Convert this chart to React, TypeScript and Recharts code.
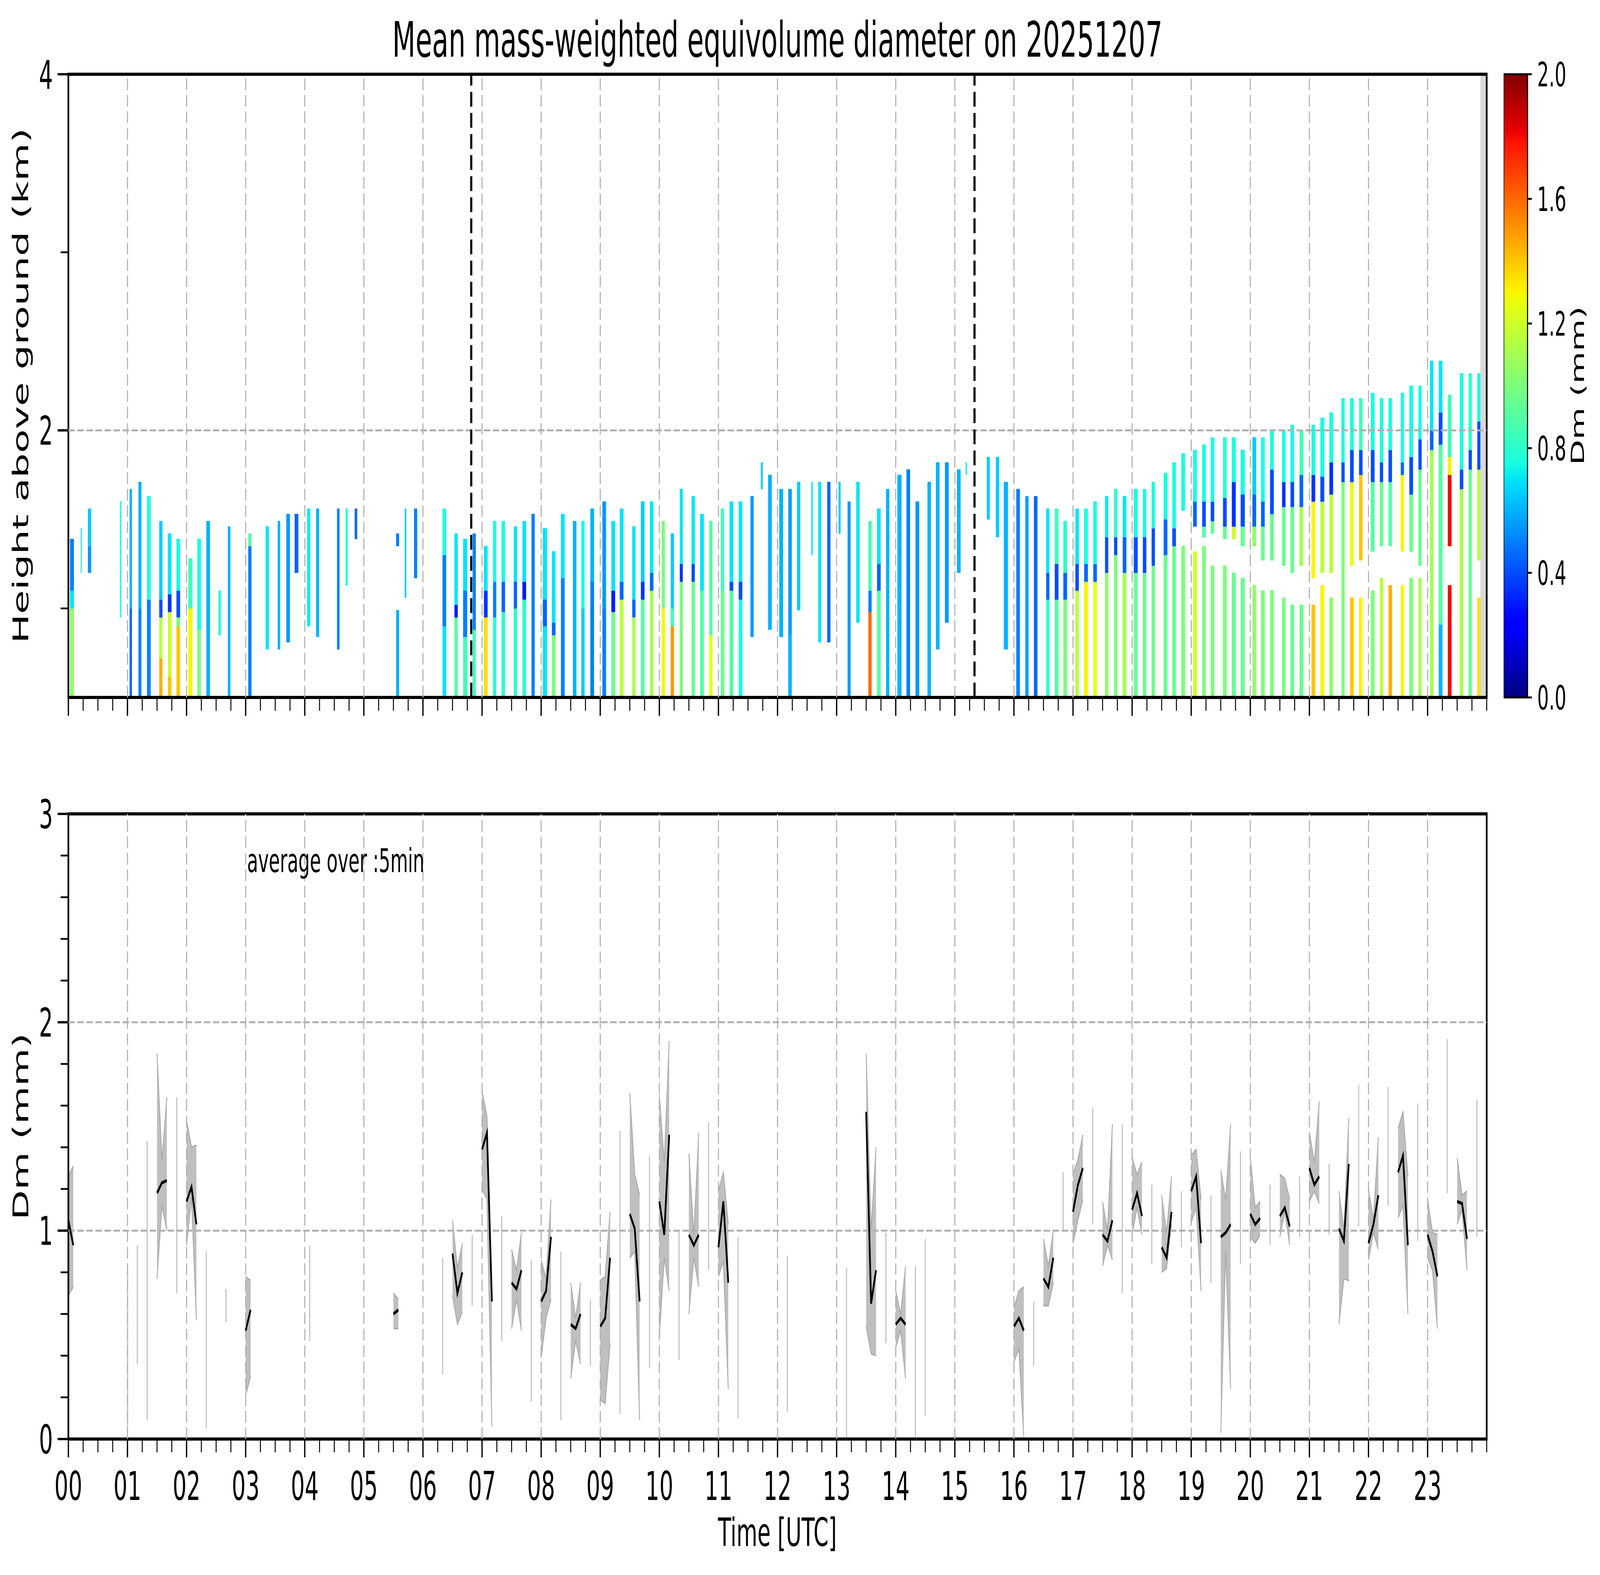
import React from 'react';
import { ComposedChart, XAxis, YAxis, Line, Area, ReferenceArea, ReferenceLine } from 'recharts';

// ======================= DATA =======================
const HOURS = [0, 1, 2, 3, 4, 5, 6, 7, 8, 9, 10, 11, 12, 13, 14, 15, 16, 17, 18, 19, 20, 21, 22, 23];
const EVENT_MARKERS = [6.817, 15.333];
const NO_DATA_FROM = 23.893;
const TOP_Y_MAJOR = [2, 4];
const TOP_Y_MINOR = [1, 3];
const BOTTOM_Y_MAJOR = [0, 1, 2, 3];
const CB_TICKS = [0, 0.4, 0.8, 1.2, 1.6, 2.0];

// profiles: [start hour, end hour, [[bottom km, top km, Dm mm], ...]]
type Layer = [number, number, number];
type Profile = [number, number, Layer[]];

const PROFILES_00_06: Profile[] = [
  [0.031, 0.092, [[0.5, 1.0, 1.05], [1.0, 1.1, 0.7], [1.1, 1.39, 0.5]]],
  [0.211, 0.222, [[1.2, 1.45, 0.7]]],
  [0.333, 0.383, [[1.2, 1.35, 0.55], [1.35, 1.56, 0.65]]],
  [0.874, 0.893, [[0.95, 1.6, 0.75]]],
  [1.038, 1.073, [[0.5, 1.0, 0.45], [1.0, 1.67, 0.6]]],
  [1.188, 1.234, [[0.5, 1.0, 0.5], [1.0, 1.71, 0.6]]],
  [1.333, 1.391, [[0.5, 1.05, 0.5], [1.05, 1.63, 0.78]]],
  [1.54, 1.59, [[0.5, 0.72, 1.45], [0.72, 0.95, 1.15], [0.95, 1.05, 0.4], [1.05, 1.49, 0.65]]],
  [1.686, 1.743, [[0.5, 0.62, 1.4], [0.62, 0.98, 1.2], [0.98, 1.08, 0.35], [1.08, 1.42, 0.7]]],
  [1.831, 1.889, [[0.5, 0.9, 1.4], [0.9, 0.95, 1.0], [0.95, 1.1, 0.4], [1.1, 1.39, 0.75]]],
  [2.031, 2.096, [[0.5, 1.0, 1.3], [1.0, 1.28, 0.85]]],
  [2.184, 2.241, [[0.5, 0.88, 1.0], [0.88, 1.39, 0.75]]],
  [2.337, 2.395, [[0.5, 1.49, 0.6]]],
  [2.54, 2.579, [[0.85, 1.1, 0.8]]],
  [2.701, 2.739, [[0.5, 1.46, 0.6]]],
  [3.046, 3.096, [[0.5, 1.35, 0.5], [1.35, 1.42, 0.9]]],
  [3.341, 3.391, [[0.77, 1.46, 0.7]]],
  [3.544, 3.582, [[0.77, 1.49, 0.6]]],
  [3.69, 3.747, [[0.81, 1.53, 0.55]]],
  [3.831, 3.889, [[1.2, 1.53, 0.45]]],
  [4.042, 4.092, [[0.9, 1.56, 0.72]]],
  [4.195, 4.241, [[0.84, 1.56, 0.6]]],
  [4.548, 4.586, [[0.77, 1.56, 0.5]]],
  [4.693, 4.724, [[1.13, 1.56, 0.75]]],
  [4.847, 4.885, [[1.39, 1.56, 0.45]]],
  [5.548, 5.594, [[0.5, 0.99, 0.6], [1.35, 1.42, 0.5]]],
  [5.693, 5.716, [[1.06, 1.56, 0.65]]],
  [5.851, 5.9, [[1.17, 1.56, 0.5]]],
];

const PROFILES_06_12: Profile[] = [
  [6.333, 6.391, [[0.5, 0.9, 0.7], [0.9, 1.3, 0.5], [1.3, 1.56, 0.75]]],
  [6.536, 6.586, [[0.5, 0.95, 0.9], [0.95, 1.02, 0.3], [1.02, 1.42, 0.7]]],
  [6.682, 6.747, [[0.5, 0.84, 0.85], [0.84, 1.1, 0.5], [1.1, 1.39, 0.7]]],
  [6.843, 6.893, [[0.5, 0.88, 0.85], [0.88, 1.42, 0.5]]],
  [7.034, 7.092, [[0.5, 0.95, 1.35], [0.95, 1.1, 0.35], [1.1, 1.35, 0.7]]],
  [7.188, 7.238, [[0.5, 0.95, 0.8], [0.95, 1.15, 0.5], [1.15, 1.49, 0.75]]],
  [7.333, 7.387, [[0.5, 0.98, 0.8], [0.98, 1.15, 0.45], [1.15, 1.49, 0.75]]],
  [7.54, 7.59, [[0.5, 1.0, 0.8], [1.0, 1.15, 0.45], [1.15, 1.46, 0.7]]],
  [7.686, 7.743, [[0.5, 1.05, 0.8], [1.05, 1.15, 0.3], [1.15, 1.49, 0.7]]],
  [7.839, 7.889, [[0.5, 1.53, 0.5]]],
  [8.031, 8.096, [[0.5, 0.9, 0.7], [0.9, 1.05, 0.45], [1.05, 1.45, 0.7]]],
  [8.184, 8.241, [[0.5, 0.85, 1.0], [0.85, 0.92, 0.45], [0.92, 1.32, 0.7]]],
  [8.337, 8.395, [[0.5, 1.17, 0.5], [1.17, 1.53, 0.7]]],
  [8.54, 8.594, [[0.5, 1.49, 0.6]]],
  [8.682, 8.732, [[0.5, 1.0, 0.65], [1.0, 1.49, 0.75]]],
  [8.835, 8.893, [[0.5, 1.15, 0.5], [1.15, 1.56, 0.6]]],
  [9.038, 9.096, [[0.5, 1.0, 0.5], [1.0, 1.6, 0.55]]],
  [9.191, 9.249, [[0.5, 0.98, 0.95], [0.98, 1.1, 0.3], [1.1, 1.49, 0.7]]],
  [9.333, 9.391, [[0.5, 1.05, 1.15], [1.05, 1.15, 0.45], [1.15, 1.56, 0.7]]],
  [9.544, 9.594, [[0.5, 0.95, 1.1], [0.95, 1.05, 0.45], [1.05, 1.46, 0.7]]],
  [9.69, 9.747, [[0.5, 1.05, 0.9], [1.05, 1.15, 0.35], [1.15, 1.6, 0.65]]],
  [9.843, 9.897, [[0.5, 1.1, 1.1], [1.1, 1.2, 0.45], [1.2, 1.6, 0.7]]],
  [10.042, 10.092, [[0.5, 1.0, 1.3], [1.0, 1.49, 1.0]]],
  [10.195, 10.245, [[0.5, 0.9, 1.5], [0.9, 1.0, 0.85], [1.0, 1.42, 0.65]]],
  [10.349, 10.395, [[0.5, 1.15, 1.0], [1.15, 1.25, 0.35], [1.25, 1.67, 0.7]]],
  [10.548, 10.598, [[0.5, 1.15, 0.95], [1.15, 1.25, 0.4], [1.25, 1.63, 0.7]]],
  [10.693, 10.751, [[0.5, 1.1, 0.9], [1.1, 1.53, 0.7]]],
  [10.847, 10.897, [[0.5, 0.85, 1.25], [0.85, 1.49, 0.9]]],
  [11.042, 11.096, [[0.5, 1.1, 0.95], [1.1, 1.56, 0.85]]],
  [11.191, 11.249, [[0.5, 1.1, 0.9], [1.1, 1.15, 0.4], [1.15, 1.6, 0.7]]],
  [11.345, 11.402, [[0.5, 1.05, 0.75], [1.05, 1.15, 0.4], [1.15, 1.6, 0.7]]],
  [11.544, 11.594, [[0.84, 1.63, 0.55]]],
  [11.72, 11.747, [[1.67, 1.82, 0.65]]],
  [11.843, 11.9, [[0.88, 1.75, 0.6]]],
];

const PROFILES_12_18: Profile[] = [
  [12.031, 12.092, [[0.84, 1.67, 0.6]]],
  [12.184, 12.238, [[0.5, 0.85, 0.6], [0.85, 1.67, 0.55]]],
  [12.333, 12.383, [[0.99, 1.71, 0.65]]],
  [12.575, 12.594, [[1.3, 1.71, 0.7]]],
  [12.69, 12.736, [[0.81, 1.71, 0.7]]],
  [12.843, 12.893, [[0.81, 1.71, 0.45]]],
  [13.034, 13.065, [[1.42, 1.71, 0.65]]],
  [13.188, 13.234, [[0.5, 1.6, 0.55]]],
  [13.333, 13.387, [[0.92, 1.71, 0.7]]],
  [13.54, 13.59, [[0.5, 0.98, 1.6], [0.98, 1.1, 0.5], [1.1, 1.49, 0.85]]],
  [13.686, 13.743, [[0.5, 1.1, 0.9], [1.1, 1.25, 0.45], [1.25, 1.56, 0.7]]],
  [13.839, 13.889, [[0.5, 1.67, 0.6]]],
  [14.031, 14.096, [[0.5, 1.75, 0.6]]],
  [14.184, 14.241, [[0.5, 1.78, 0.5]]],
  [14.337, 14.395, [[0.5, 1.6, 0.55]]],
  [14.54, 14.594, [[0.5, 1.71, 0.6]]],
  [14.682, 14.739, [[0.77, 1.82, 0.6]]],
  [14.835, 14.893, [[0.92, 1.82, 0.55]]],
  [15.038, 15.096, [[1.2, 1.78, 0.6]]],
  [15.185, 15.2, [[1.75, 1.82, 0.7]]],
  [15.544, 15.59, [[1.5, 1.85, 0.65]]],
  [15.697, 15.747, [[1.4, 1.85, 0.65]]],
  [15.831, 15.897, [[0.77, 1.71, 0.6]]],
  [16.042, 16.1, [[0.5, 1.67, 0.5]]],
  [16.195, 16.245, [[0.5, 1.63, 0.55]]],
  [16.341, 16.395, [[0.5, 1.63, 0.45]]],
  [16.548, 16.598, [[0.5, 1.05, 0.8], [1.05, 1.2, 0.45], [1.2, 1.56, 0.7]]],
  [16.693, 16.751, [[0.5, 1.05, 0.9], [1.05, 1.25, 0.4], [1.25, 1.56, 0.85]]],
  [16.839, 16.897, [[0.5, 1.05, 1.0], [1.05, 1.2, 0.45], [1.2, 1.49, 0.8]]],
  [17.042, 17.096, [[0.5, 1.1, 1.15], [1.1, 1.25, 0.4], [1.25, 1.56, 0.7]]],
  [17.191, 17.249, [[0.5, 1.15, 1.3], [1.15, 1.25, 0.45], [1.25, 1.56, 0.75]]],
  [17.345, 17.402, [[0.5, 1.15, 1.25], [1.15, 1.25, 0.45], [1.25, 1.6, 0.75]]],
  [17.544, 17.594, [[0.5, 1.2, 1.05], [1.2, 1.4, 0.4], [1.4, 1.63, 0.7]]],
  [17.697, 17.747, [[0.5, 1.3, 1.0], [1.3, 1.4, 0.4], [1.4, 1.67, 0.8]]],
  [17.843, 17.9, [[0.5, 1.2, 1.1], [1.2, 1.4, 0.45], [1.4, 1.63, 0.7]]],
];

const PROFILES_18_24: Profile[] = [
  [18.031, 18.092, [[0.5, 1.2, 0.95], [1.2, 1.4, 0.4], [1.4, 1.67, 0.75]]],
  [18.184, 18.238, [[0.5, 1.2, 0.95], [1.2, 1.4, 0.4], [1.4, 1.67, 0.75]]],
  [18.333, 18.383, [[0.5, 1.24, 0.95], [1.24, 1.45, 0.4], [1.45, 1.71, 0.75]]],
  [18.536, 18.594, [[0.5, 1.3, 0.95], [1.3, 1.5, 0.45], [1.5, 1.76, 0.75]]],
  [18.682, 18.739, [[0.5, 1.35, 0.95], [1.35, 1.45, 0.4], [1.45, 1.82, 0.75]]],
  [18.835, 18.893, [[0.5, 1.35, 1.0], [1.55, 1.87, 0.75]]],
  [19.034, 19.092, [[0.5, 1.32, 1.2], [1.46, 1.6, 0.45], [1.6, 1.89, 0.75]]],
  [19.188, 19.245, [[0.5, 1.35, 1.0], [1.4, 1.46, 0.9], [1.46, 1.6, 0.4], [1.6, 1.92, 0.75]]],
  [19.333, 19.387, [[0.5, 1.24, 1.0], [1.42, 1.49, 0.95], [1.49, 1.6, 0.4], [1.6, 1.96, 0.75]]],
  [19.54, 19.598, [[0.5, 1.24, 1.0], [1.39, 1.46, 0.95], [1.46, 1.62, 0.4], [1.62, 1.96, 0.8]]],
  [19.69, 19.751, [[0.5, 1.2, 0.95], [1.39, 1.46, 1.2], [1.46, 1.71, 0.35], [1.71, 1.96, 0.75]]],
  [19.839, 19.904, [[0.5, 1.17, 0.95], [1.35, 1.46, 0.95], [1.46, 1.64, 0.4], [1.64, 1.89, 0.75]]],
  [20.038, 20.096, [[0.5, 1.13, 1.05], [1.35, 1.46, 1.05], [1.46, 1.64, 0.45], [1.64, 1.96, 0.65]]],
  [20.184, 20.241, [[0.5, 1.1, 1.0], [1.27, 1.46, 0.95], [1.46, 1.6, 0.45], [1.6, 1.96, 0.75]]],
  [20.337, 20.395, [[0.5, 1.1, 1.0], [1.27, 1.53, 0.95], [1.53, 1.78, 0.4], [1.78, 2.0, 0.75]]],
  [20.54, 20.594, [[0.5, 1.06, 1.0], [1.24, 1.57, 0.95], [1.57, 1.71, 0.35], [1.71, 2.0, 0.75]]],
  [20.682, 20.739, [[0.5, 1.02, 0.95], [1.2, 1.57, 0.95], [1.57, 1.71, 0.4], [1.71, 2.03, 0.75]]],
  [20.835, 20.893, [[0.5, 1.02, 0.95], [1.24, 1.57, 1.1], [1.57, 1.75, 0.45], [1.75, 2.0, 0.85]]],
  [21.038, 21.096, [[0.5, 1.02, 1.4], [1.17, 1.6, 1.3], [1.6, 1.75, 0.35], [1.75, 2.03, 0.75]]],
  [21.188, 21.249, [[0.5, 1.13, 1.3], [1.2, 1.6, 1.15], [1.6, 1.74, 0.4], [1.74, 2.07, 0.75]]],
  [21.341, 21.398, [[0.5, 1.06, 1.05], [1.2, 1.64, 1.15], [1.64, 1.82, 0.35], [1.82, 2.1, 0.75]]],
  [21.544, 21.594, [[0.5, 1.71, 1.0], [1.71, 1.82, 0.4], [1.82, 2.18, 0.75]]],
  [21.69, 21.747, [[0.5, 1.06, 1.4], [1.24, 1.71, 1.25], [1.71, 1.89, 0.4], [1.89, 2.18, 0.75]]],
  [21.843, 21.897, [[0.5, 1.06, 1.3], [1.27, 1.75, 1.4], [1.75, 1.89, 0.4], [1.89, 2.18, 0.85]]],
  [22.042, 22.1, [[0.5, 1.1, 1.0], [1.32, 1.71, 0.9], [1.71, 1.89, 0.4], [1.89, 2.21, 0.75]]],
  [22.195, 22.245, [[0.5, 1.17, 1.15], [1.35, 1.71, 0.95], [1.71, 1.82, 0.4], [1.82, 2.18, 0.75]]],
  [22.341, 22.395, [[0.5, 1.13, 1.45], [1.35, 1.71, 0.9], [1.71, 1.89, 0.4], [1.89, 2.18, 0.75]]],
  [22.548, 22.598, [[0.5, 1.13, 1.3], [1.32, 1.75, 1.3], [1.75, 1.82, 0.45], [1.82, 2.21, 0.75]]],
  [22.693, 22.751, [[0.5, 1.17, 1.0], [1.32, 1.64, 0.95], [1.64, 1.85, 0.4], [1.85, 2.25, 0.75]]],
  [22.847, 22.897, [[0.5, 1.17, 1.1], [1.24, 1.78, 0.95], [1.78, 1.95, 0.4], [1.95, 2.25, 0.75]]],
  [23.042, 23.096, [[0.5, 1.89, 1.1], [1.89, 2.0, 0.45], [2.0, 2.39, 0.7]]],
  [23.191, 23.249, [[0.5, 0.91, 0.6], [0.91, 1.92, 0.9], [1.92, 2.1, 0.4], [2.1, 2.39, 0.7]]],
  [23.345, 23.402, [[0.5, 1.13, 1.8], [1.35, 1.75, 1.8], [1.75, 1.85, 1.3], [1.85, 2.2, 0.85]]],
  [23.548, 23.602, [[0.5, 1.67, 1.1], [1.67, 1.78, 0.4], [1.78, 2.32, 0.75]]],
  [23.697, 23.747, [[0.5, 1.78, 0.95], [1.78, 1.89, 0.4], [1.89, 2.32, 0.8]]],
  [23.843, 23.9, [[0.5, 1.06, 1.35], [1.27, 1.78, 1.15], [1.78, 2.05, 0.4], [2.05, 2.32, 0.75]]],
];

// 5-min averages: [minute of day, mean Dm, min Dm, max Dm]
const DM_SEGMENTS_AM: number[][][] = [
  [[0, 1.05, 0.69, 1.26], [5, 0.93, 0.73, 1.31]],
  [[90, 1.18, 0.77, 1.85], [95, 1.23, 1.12, 1.34], [100, 1.24, 1.0, 1.64]],
  [[120, 1.14, 0.93, 1.53], [125, 1.21, 1.16, 1.4], [130, 1.03, 0.57, 1.41]],
  [[180, 0.52, 0.21, 0.78], [185, 0.62, 0.3, 0.76]],
  [[330, 0.6, 0.53, 0.7], [335, 0.62, 0.53, 0.67]],
  [[390, 0.89, 0.69, 1.05], [395, 0.7, 0.55, 0.82], [400, 0.8, 0.61, 0.94]],
  [[420, 1.39, 1.2, 1.67], [425, 1.47, 1.15, 1.55], [430, 0.66, 0.06, 0.7]],
  [[450, 0.75, 0.53, 0.91], [455, 0.72, 0.67, 0.81], [460, 0.81, 0.52, 0.99]],
  [[480, 0.66, 0.39, 0.86], [485, 0.71, 0.58, 0.77], [490, 0.97, 0.67, 1.15]],
  [[510, 0.55, 0.29, 0.75], [515, 0.53, 0.47, 0.58], [520, 0.6, 0.36, 0.75]],
  [[540, 0.54, 0.19, 0.76], [545, 0.58, 0.17, 0.78], [550, 0.87, 0.46, 1.09]],
  [[570, 1.08, 0.87, 1.66], [575, 1.01, 0.9, 1.27], [580, 0.66, 0.09, 1.17]],
  [[600, 1.14, 0.49, 1.65], [605, 0.98, 0.87, 1.33], [610, 1.46, 0.71, 1.91]],
  [[630, 0.98, 0.6, 1.37], [635, 0.93, 0.87, 0.98], [640, 0.98, 0.73, 1.47]],
  [[660, 0.92, 0.78, 1.19], [665, 1.14, 0.85, 1.28], [670, 0.75, 0.24, 1.03]],
];

const DM_SEGMENTS_PM: number[][][] = [
  [[810, 1.57, 0.54, 1.85], [815, 0.65, 0.41, 1.0], [820, 0.81, 0.4, 1.4]],
  [[840, 0.55, 0.44, 0.71], [845, 0.58, 0.52, 0.6], [850, 0.55, 0.29, 0.83]],
  [[960, 0.54, 0.37, 0.63], [965, 0.58, 0.43, 0.71], [970, 0.52, 0.01, 0.73]],
  [[990, 0.77, 0.64, 0.96], [995, 0.73, 0.64, 0.83], [1000, 0.87, 0.75, 1.0]],
  [[1020, 1.09, 0.94, 1.27], [1025, 1.22, 1.05, 1.34], [1030, 1.3, 1.15, 1.46]],
  [[1050, 0.98, 0.83, 1.14], [1055, 0.95, 0.93, 1.0], [1060, 1.05, 0.86, 1.51]],
  [[1080, 1.1, 0.98, 1.35], [1085, 1.18, 1.11, 1.27], [1090, 1.07, 0.98, 1.33]],
  [[1110, 0.92, 0.8, 1.17], [1115, 0.87, 0.82, 0.99], [1120, 1.09, 1.03, 1.26]],
  [[1140, 1.19, 1.04, 1.36], [1145, 1.26, 1.11, 1.39], [1150, 0.94, 0.71, 1.15]],
  [[1170, 0.97, 0.03, 1.29], [1175, 0.99, 0.9, 1.15], [1180, 1.03, 0.24, 1.51]],
  [[1200, 1.08, 0.97, 1.35], [1205, 1.03, 0.94, 1.11], [1210, 1.06, 0.98, 1.14]],
  [[1230, 1.07, 0.97, 1.27], [1235, 1.11, 1.09, 1.25], [1240, 1.02, 0.93, 1.15]],
  [[1260, 1.3, 1.14, 1.47], [1265, 1.22, 1.19, 1.33], [1270, 1.26, 1.13, 1.62]],
  [[1290, 1.01, 0.55, 1.19], [1295, 0.95, 0.77, 1.0], [1300, 1.32, 0.76, 1.54]],
  [[1320, 0.94, 0.86, 1.2], [1325, 1.03, 0.99, 1.05], [1330, 1.17, 0.91, 1.45]],
  [[1350, 1.28, 1.06, 1.49], [1355, 1.36, 1.12, 1.57], [1360, 0.93, 0.6, 1.26]],
  [[1380, 0.98, 0.87, 1.15], [1385, 0.9, 0.81, 0.99], [1390, 0.78, 0.53, 0.98]],
  [[1410, 1.14, 1.03, 1.35], [1415, 1.13, 1.1, 1.17], [1420, 0.96, 0.81, 1.19]],
];

// single-sample ranges: [minute of day, min Dm, max Dm]
const DM_SINGLE: number[][] = [
  [60, 0.05, 0.81], [70, 0.36, 0.93], [80, 0.09, 1.43], [110, 0.7, 1.64], [140, 0.05, 0.9],
  [160, 0.56, 0.72], [245, 0.47, 0.93], [380, 0.31, 0.87], [410, 0.64, 0.98], [440, 0.47, 1.07],
  [470, 0.18, 0.86], [500, 0.09, 0.9], [530, 0.35, 0.67], [560, 0.12, 1.48], [590, 0.34, 1.36],
  [620, 0.38, 1.0], [650, 0.81, 1.52], [680, 0.1, 0.97], [730, 0.13, 0.88], [790, 0.01, 0.82],
  [830, 0.46, 0.99], [860, 0.01, 0.83], [870, 0.11, 0.96], [980, 0.35, 0.66], [1010, 1.0, 1.28],
  [1040, 1.03, 1.59], [1070, 0.7, 1.51], [1100, 0.84, 1.22], [1130, 0.92, 1.19], [1160, 0.75, 1.17],
  [1190, 0.84, 1.38], [1220, 0.93, 1.22], [1250, 0.97, 1.26], [1280, 0.98, 1.32], [1310, 1.02, 1.7],
  [1340, 1.12, 1.69], [1370, 0.95, 1.61], [1400, 1.18, 1.92], [1430, 0.97, 1.63],
];

// ======================= STYLE =======================
const FONT = '"DejaVu Sans", "Liberation Sans", Arial, sans-serif';
const W = 7442;
const H = 4031;
const MARGIN_LEFT = 118;
const Y_AXIS_W = 200;
const MARGIN_RIGHT = 527;
const GRID = { stroke: '#b0b0b0', strokeWidth: 5, strokeDasharray: '30 12' };
const TICK_FS = 102;
const LABEL_FS = 100;

// matplotlib "jet"
const JET_R = [[0, 0], [0.35, 0], [0.66, 1], [0.89, 1], [1, 0.5]];
const JET_G = [[0, 0], [0.125, 0], [0.375, 1], [0.64, 1], [0.91, 0], [1, 0]];
const JET_B = [[0, 0.5], [0.11, 1], [0.34, 1], [0.65, 0], [1, 0]];
function interp(pts: number[][], x: number) {
  for (let i = 1; i < pts.length; i++) {
    if (x <= pts[i][0]) {
      const [x0, y0] = pts[i - 1];
      const [x1, y1] = pts[i];
      return y0 + ((y1 - y0) * (x - x0)) / (x1 - x0);
    }
  }
  return pts[pts.length - 1][1];
}
function jet(v: number) {
  const x = Math.max(0, Math.min(1, v));
  const c = (p: number[][]) => Math.round(interp(p, x) * 255);
  return `rgb(${c(JET_R)},${c(JET_G)},${c(JET_B)})`;
}
const dmColor = (dm: number) => jet(dm / 2);

const X_TICKS: number[] = [];
HOURS.concat([24]).forEach((h) => {
  X_TICKS.push(h);
  if (h < 24) [0.25, 0.5, 0.75].forEach((q) => X_TICKS.push(h + q));
});
const BOTTOM_Y_TICKS: number[] = [];
for (let i = 0; i <= 15; i++) BOTTOM_Y_TICKS.push(Math.round(i * 2) / 10);

const isInt = (v: number) => Math.abs(v - Math.round(v)) < 1e-6;

function renderXTick(p: any, showLabel: boolean) {
  const { x, y, payload } = p;
  const v = payload.value as number;
  const major = isInt(v) && v < 24;
  return (
    <g>
      <line x1={x} y1={y} x2={x} y2={y + (major ? 47 : 34)} stroke="#000" strokeWidth={major ? 6 : 4.5} />
      {showLabel && major ? (
        <text x={x} y={y + 156} textAnchor="middle" fontSize={TICK_FS} fontFamily={FONT} fill="#000">
          {String(v).padStart(2, '0')}
        </text>
      ) : null}
    </g>
  );
}

function renderYTick(p: any, labeled: number[]) {
  const { x, y, payload } = p;
  const v = payload.value as number;
  const major = labeled.some((m) => Math.abs(m - v) < 1e-6);
  return (
    <g>
      <line x1={x - (major ? 50 : 36)} y1={y} x2={x} y2={y} stroke="#000" strokeWidth={major ? 6 : 4.5} />
      {major ? (
        <text x={x - 72} y={y + 0.36 * TICK_FS} textAnchor="end" fontSize={TICK_FS} fontFamily={FONT} fill="#000">
          {String(v)}
        </text>
      ) : null}
    </g>
  );
}

function renderCbTick(p: any) {
  const { x, y, payload } = p;
  const v = payload.value as number;
  return (
    <g>
      <line x1={x} y1={y} x2={x + 20} y2={y} stroke="#000" strokeWidth={5} />
      <text x={x + 45} y={y + 0.36 * 85} textAnchor="start" fontSize={85} fontFamily={FONT} fill="#000">
        {v.toFixed(1)}
      </text>
    </g>
  );
}

function TopPanel() {
  const profiles = [...PROFILES_00_06, ...PROFILES_06_12, ...PROFILES_12_18, ...PROFILES_18_24];
  const cells = profiles.flatMap(([t0, t1, layers], i) =>
    layers.map(([h0, h1, dm], j) => ({ key: `c${i}-${j}`, t0, t1, h0, h1, dm }))
  );
  const tops = profiles.map(([t0, t1, layers]) => ({
    t: (t0 + t1) / 2,
    top: Math.max(...layers.map((l) => l[1])),
  }));
  return (
    <ComposedChart
      width={W}
      height={1960}
      data={tops}
      margin={{ top: 190, right: MARGIN_RIGHT, bottom: 25, left: MARGIN_LEFT }}
    >
      <XAxis
        dataKey="t"
        type="number"
        domain={[0, 24]}
        allowDataOverflow
        ticks={X_TICKS}
        interval={0}
        axisLine={false}
        tickLine={false}
        tickSize={0}
        tickMargin={0}
        height={150}
        tick={(p: any) => renderXTick(p, false)}
      />
      <YAxis
        type="number"
        domain={[0.5, 4]}
        allowDataOverflow
        ticks={[...TOP_Y_MINOR, ...TOP_Y_MAJOR].sort()}
        interval={0}
        axisLine={false}
        tickLine={false}
        tickSize={0}
        tickMargin={0}
        width={Y_AXIS_W}
        tick={(p: any) => renderYTick(p, TOP_Y_MAJOR)}
      />
      {cells.map((c) => (
        <ReferenceArea
          key={c.key}
          x1={c.t0}
          x2={c.t1}
          y1={c.h0}
          y2={c.h1}
          fill={dmColor(c.dm)}
          fillOpacity={1}
          stroke={dmColor(c.dm)}
          strokeWidth={1}
        />
      ))}
      <ReferenceArea x1={NO_DATA_FROM} x2={24} y1={0.5} y2={4} fill="#d9d9d9" fillOpacity={1} />
      {HOURS.slice(1).map((h) => (
        <ReferenceLine key={`gx${h}`} x={h} {...GRID} />
      ))}
      {TOP_Y_MAJOR.filter((v) => v < 4).map((v) => (
        <ReferenceLine key={`gy${v}`} y={v} {...GRID} />
      ))}
      {EVENT_MARKERS.map((t) => (
        <ReferenceLine key={`ev${t}`} x={t} stroke="#000" strokeWidth={10} strokeDasharray="38 16" />
      ))}
      <Line dataKey="top" stroke="none" dot={false} activeDot={false} isAnimationActive={false} />
      <ReferenceArea x1={0} x2={24} y1={0.5} y2={4} fill="none" fillOpacity={0} stroke="#000" strokeWidth={8} />
    </ComposedChart>
  );
}

function BottomPanel() {
  const segs = [...DM_SEGMENTS_AM, ...DM_SEGMENTS_PM].map((seg) =>
    seg.map(([m, mean, lo, hi]) => ({ t: m / 60, mean, band: [lo, hi] }))
  );
  const meanData: any[] = [];
  segs.forEach((seg) => {
    seg.forEach((d) => meanData.push({ t: d.t, mean: d.mean }));
    meanData.push({ t: seg[seg.length - 1].t, mean: null });
  });
  const spikeData: any[] = [];
  DM_SINGLE.forEach(([m, lo, hi]) => {
    spikeData.push({ t: m / 60, v: lo });
    spikeData.push({ t: m / 60, v: hi });
    spikeData.push({ t: m / 60, v: null });
  });
  return (
    <ComposedChart width={W} height={2041} margin={{ top: 93, right: MARGIN_RIGHT, bottom: 98, left: MARGIN_LEFT }}>
      <XAxis
        dataKey="t"
        type="number"
        domain={[0, 24]}
        allowDataOverflow
        ticks={X_TICKS}
        interval={0}
        axisLine={false}
        tickLine={false}
        tickSize={0}
        tickMargin={0}
        height={250}
        tick={(p: any) => renderXTick(p, true)}
      />
      <YAxis
        type="number"
        domain={[0, 3]}
        allowDataOverflow
        ticks={BOTTOM_Y_TICKS}
        interval={0}
        axisLine={false}
        tickLine={false}
        tickSize={0}
        tickMargin={0}
        width={Y_AXIS_W}
        tick={(p: any) => renderYTick(p, BOTTOM_Y_MAJOR)}
      />
      {segs.map((d, i) => (
        <Area
          key={`band${i}`}
          data={d}
          dataKey="band"
          type="linear"
          fill="#bfbfbf"
          fillOpacity={1}
          stroke="#a9a9a9"
          strokeWidth={4}
          dot={false}
          activeDot={false}
          isAnimationActive={false}
        />
      ))}
      <Line
        data={spikeData}
        dataKey="v"
        type="linear"
        stroke="#c0c0c0"
        strokeWidth={5}
        dot={false}
        activeDot={false}
        connectNulls={false}
        isAnimationActive={false}
      />
      {HOURS.slice(1).map((h) => (
        <ReferenceLine key={`gx${h}`} x={h} {...GRID} />
      ))}
      {BOTTOM_Y_MAJOR.filter((v) => v > 0 && v < 3).map((v) => (
        <ReferenceLine key={`gy${v}`} y={v} {...GRID} />
      ))}
      <Line
        data={meanData}
        dataKey="mean"
        type="linear"
        stroke="#000"
        strokeWidth={8}
        dot={false}
        activeDot={false}
        connectNulls={false}
        isAnimationActive={false}
      />
      <ReferenceArea x1={0} x2={24} y1={0} y2={3} fill="none" fillOpacity={0} stroke="#000" strokeWidth={8} />
    </ComposedChart>
  );
}

function ColorBar() {
  const lo = CB_TICKS[0];
  const hi = CB_TICKS[CB_TICKS.length - 1];
  const stops = [0, 0.11, 0.125, 0.34, 0.35, 0.375, 0.5, 0.64, 0.65, 0.66, 0.75, 0.89, 0.91, 1];
  return (
    <ComposedChart width={448} height={1900} margin={{ top: 190, right: 0, bottom: 115, left: 0 }}>
      <defs>
        <linearGradient id="jetcb" x1="0" y1="1" x2="0" y2="0">
          {stops.map((s) => (
            <stop key={s} offset={`${s * 100}%`} stopColor={jet(s)} />
          ))}
        </linearGradient>
      </defs>
      <XAxis dataKey="x" type="number" domain={[0, 1]} allowDataOverflow hide />
      <YAxis
        orientation="right"
        type="number"
        domain={[lo, hi]}
        allowDataOverflow
        ticks={CB_TICKS}
        interval={0}
        axisLine={false}
        tickLine={false}
        tickSize={0}
        tickMargin={0}
        width={337}
        tick={renderCbTick}
      />
      <Line
        data={[{ x: 0, v: lo }, { x: 1, v: hi }]}
        dataKey="v"
        stroke="none"
        dot={false}
        activeDot={false}
        isAnimationActive={false}
      />
      <ReferenceArea x1={0} x2={1} y1={lo} y2={hi} fill="url(#jetcb)" fillOpacity={1} />
      <ReferenceArea x1={0} x2={1} y1={lo} y2={hi} fill="none" fillOpacity={0} stroke="#000" strokeWidth={5} />
    </ComposedChart>
  );
}

const textBase: React.CSSProperties = {
  position: 'absolute',
  fontFamily: FONT,
  lineHeight: 1,
  whiteSpace: 'nowrap',
  color: '#000',
};

export default function App() {
  // The browser may clamp the window narrower than the requested 7442 px;
  // fit the full-size figure into whatever viewport is actually available.
  const vw = typeof window !== 'undefined' ? window.innerWidth : W;
  const vh = typeof window !== 'undefined' ? window.innerHeight : H;
  const sx = Math.min(1, vw / W);
  const sy = Math.min(1, vh / H);
  return (
    <div style={{ position: 'relative', width: Math.round(W * sx), height: Math.round(H * sy), overflow: 'hidden', background: '#fff' }}>
      <style>{'body{margin:0;padding:0;background:#fff;overflow:hidden;}'}</style>
      <div
        style={{
          position: 'absolute',
          left: 0,
          top: 0,
          width: W,
          height: H,
          background: '#fff',
          transform: `scale(${sx}, ${sy})`,
          transformOrigin: '0 0',
        }}
      >
        <div style={{ position: 'absolute', left: 0, top: 0 }}>
          <TopPanel />
        </div>
        <div style={{ position: 'absolute', left: 0, top: 1990 }}>
          <BottomPanel />
        </div>
        <div style={{ position: 'absolute', left: 6994, top: 0 }}>
          <ColorBar />
        </div>
        <div style={{ ...textBase, left: 3616, top: 39, fontSize: 125, transform: 'translateX(-50%)' }}>
          Mean mass-weighted equivolume diameter on 20251207
        </div>
        <div
          style={{ ...textBase, left: 96, top: 987, fontSize: LABEL_FS, transform: 'translate(-50%,-50%) rotate(-90deg)' }}
        >
          Height above ground (km)
        </div>
        <div
          style={{ ...textBase, left: 96, top: 2883, fontSize: LABEL_FS, transform: 'translate(-50%,-50%) rotate(-90deg)' }}
        >
          Dm (mm)
        </div>
        <div
          style={{ ...textBase, left: 7338, top: 987, fontSize: 85, transform: 'translate(-50%,-50%) rotate(-90deg)' }}
        >
          Dm (mm)
        </div>
        <div style={{ ...textBase, left: 3616, top: 3873, fontSize: LABEL_FS, transform: 'translateX(-50%)' }}>
          Time [UTC]
        </div>
        <div style={{ ...textBase, left: 1149, top: 2161, fontSize: 84 }}>average over :5min</div>
      </div>
    </div>
  );
}
